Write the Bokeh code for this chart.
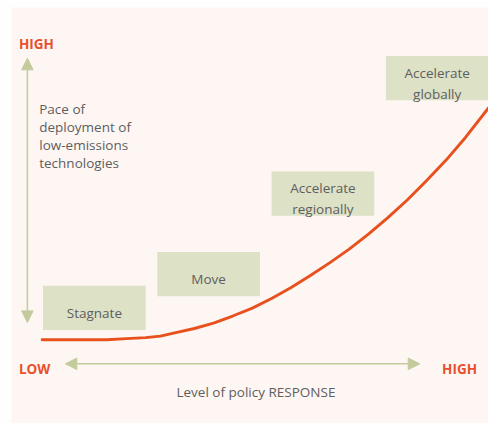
from bokeh.plotting import figure
from bokeh.models import Range1d, Arrow, NormalHead
from bokeh.core.properties import value
from bokeh.embed import file_html
from bokeh.resources import INLINE

# ---- data (conceptual units: policy response 0..10, pace of deployment 0..~10) ----
curve_policy = [0.00, 1.45, 1.89, 2.32, 2.65, 2.97, 3.41, 3.84, 4.27, 4.71,
                5.14, 5.58, 6.01, 6.44, 6.88, 7.31, 7.74, 8.18, 8.61, 9.05,
                9.48, 10.00]
curve_pace = [0.00, 0.00, 0.04, 0.08, 0.14, 0.27, 0.44, 0.65, 0.93, 1.24,
              1.62, 2.05, 2.52, 3.02, 3.56, 4.15, 4.79, 5.49, 6.25, 7.06,
              7.94, 9.11]

stage_line1 = ["Stagnate", "Move", "Accelerate", "Accelerate"]
stage_line2 = ["", "", "regionally", "globally"]
stage_policy = [1.17, 3.73, 6.29, 8.85]
stage_pace = [1.25, 2.58, 5.74, 10.28]

y_axis_lines = ["Pace of", "deployment of", "low-emissions", "technologies"]
x_axis_title = "Level of policy RESPONSE"
low_label = "LOW"
high_label = "HIGH"

# ---- styling ----
PX_X = 1 / 46.1   # data units per reference pixel (x)
PX_Y = 1 / 26.4   # data units per reference pixel (y)
ORANGE = "#e8501e"
LABEL_RED = "#e9502c"
OLIVE = "#c3cb9c"
BOX = "#dde1c6"
GREY = "#5e5e5e"
BG = "#fdf6f3"
FONT = value("Open Sans")
FS = "13.5px"

p = figure(width=488, height=423, output_backend="svg", toolbar_location=None,
           x_range=Range1d(-0.686, 10.0), y_range=Range1d(-3.295, 13.058),
           x_axis_type=None, y_axis_type=None,
           min_border_left=11, min_border_right=0, min_border_top=7, min_border_bottom=0)
p.background_fill_color = BG
p.border_fill_color = "#fefefe"
p.outline_line_color = None
p.grid.visible = False

# stage boxes
box_w = 106 * PX_X
box_h = 46 * PX_Y
p.rect(x=stage_policy, y=stage_pace, width=box_w, height=box_h,
       fill_color=BOX, line_color=None)

# stage labels
lab_x, lab_y, lab_t = [], [], []
for t1, t2, sx, sy in zip(stage_line1, stage_line2, stage_policy, stage_pace):
    if t2:
        lab_x += [sx, sx]
        lab_y += [sy + 5.5 * PX_Y, sy - 16 * PX_Y]
        lab_t += [t1, t2]
    else:
        lab_x.append(sx)
        lab_y.append(sy - 5 * PX_Y)
        lab_t.append(t1)
p.text(x=lab_x, y=lab_y, text=lab_t,
       text_font=FONT, text_font_size=FS, text_color=GREY,
       text_align="center", text_baseline="alphabetic")

# curve
p.line(curve_policy, curve_pace, line_color=ORANGE, line_width=2.9,
       line_join="round", line_cap="round")

# axis arrows
head = dict(size=11.5, fill_color=OLIVE, line_color=OLIVE)
p.add_layout(Arrow(x_start=-0.33, y_start=0.68, x_end=-0.33, y_end=11.06,
                   start=NormalHead(**head), end=NormalHead(**head),
                   line_color=OLIVE, line_width=1.5))
p.add_layout(Arrow(x_start=0.52, y_start=-0.95, x_end=8.46, y_end=-0.95,
                   start=NormalHead(**head), end=NormalHead(**head),
                   line_color=OLIVE, line_width=1.5))

# axis end labels
p.text(x=[-0.52, -0.52, 8.96], y=[11.61, -1.14, -1.14],
       text=[high_label, low_label, high_label],
       text_font=FONT, text_font_size=FS, text_font_style="bold",
       text_color=LABEL_RED, text_align="left", text_baseline="alphabetic")

# axis titles
p.text(x=[-0.065] * len(y_axis_lines),
       y=[9.05 - i * 18.5 * PX_Y for i in range(len(y_axis_lines))],
       text=y_axis_lines, text_font=FONT, text_font_size=FS,
       text_color=GREY, text_align="left", text_baseline="alphabetic")
p.text(x=[4.79], y=[-2.06], text=[x_axis_title], text_font=FONT,
       text_font_size=FS, text_color=GREY, text_align="center",
       text_baseline="alphabetic")

open("out.html", "w").write(file_html(p, INLINE))
